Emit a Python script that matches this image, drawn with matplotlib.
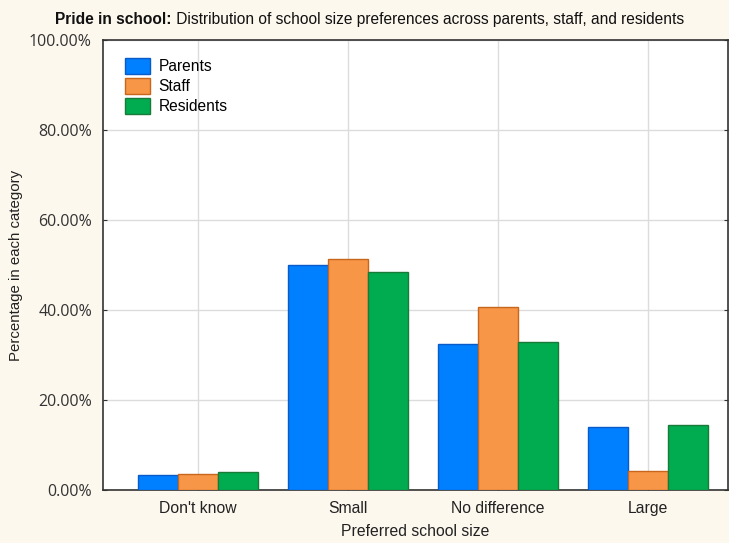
import matplotlib
matplotlib.use("Agg")
import matplotlib.pyplot as plt
import numpy as np
from matplotlib.ticker import FuncFormatter, MultipleLocator

categories = ["Don't know", "Small", "No difference", "Large"]
series_names = ["Parents", "Staff", "Residents"]
parents = [3.3, 50.1, 32.5, 13.9]
staff = [3.5, 51.4, 40.7, 4.3]
residents = [4.0, 48.5, 32.8, 14.5]

face_colors = ["#007FFF", "#F79646", "#00AC4F"]
edge_colors = ["#0A5AC8", "#C8661E", "#1A7A3A"]

plt.rcParams['font.family'] = ['Liberation Sans', 'DejaVu Sans']

fig = plt.figure(figsize=(7.29, 5.43), dpi=100)
fig.patch.set_facecolor("#FDF8EE")
ax = fig.add_axes([103/729, 53/543, 625/729, 450/543])
ax.set_facecolor("white")

x = np.arange(len(categories))
w = 0.267
for i, (vals, name) in enumerate(zip([parents, staff, residents], series_names)):
    ax.bar(x + (i - 1) * w, vals, width=w, color=face_colors[i],
           edgecolor=edge_colors[i], linewidth=1.0, label=name, zorder=3)

ax.set_xlim(-0.633, 3.533)
ax.set_ylim(0, 100)
ax.yaxis.set_major_locator(MultipleLocator(20))
ax.yaxis.set_major_formatter(FuncFormatter(lambda v, p: f"{v:.2f}%"))
ax.set_xticks(x)
ax.set_xticklabels(categories, fontsize=11.3)
ax.grid(True, color="#DCDCDC", linewidth=1.0, zorder=0)
ax.tick_params(axis='both', direction='in', length=3, color="#333333")
ax.tick_params(axis='y', labelsize=11.5, labelcolor="#333333", pad=8, right=True)
ax.tick_params(axis='x', labelcolor="#222222", pad=8)
for lab in ax.get_yticklabels():
    lab.set_family(['Open Sans', 'DejaVu Sans'])
for s in ax.spines.values():
    s.set_color("#333333")
    s.set_linewidth(1.2)

ax.set_ylabel("Percentage in each category", fontsize=10.8, color="#222222", labelpad=4)
ax.set_xlabel("Preferred school size", fontsize=11.3, color="#222222", labelpad=6)

leg = ax.legend(loc="upper left", bbox_to_anchor=(0.012, 0.992), frameon=False,
                fontsize=11.2, handlelength=1.65, handleheight=1.2,
                labelspacing=0.26, handletextpad=0.55)

# Title: bold prefix + normal remainder, centered together
fig.canvas.draw()
r = fig.canvas.get_renderer()
t1 = fig.text(0, 0.965, "Pride in school:", fontsize=11.2, fontweight="bold",
              color="#111111", va="center", ha="left")
t2 = fig.text(0, 0.965, " Distribution of school size preferences across parents, staff, and residents",
              fontsize=11.2, color="#111111", va="center", ha="left")
w1 = t1.get_window_extent(r).width
w2 = t2.get_window_extent(r).width
total = w1 + w2
start = (729 - total) / 2 + 5
t1.set_x(start / 729)
t2.set_x((start + w1) / 729)

fig.savefig("out.png", dpi=100, facecolor=fig.get_facecolor())
